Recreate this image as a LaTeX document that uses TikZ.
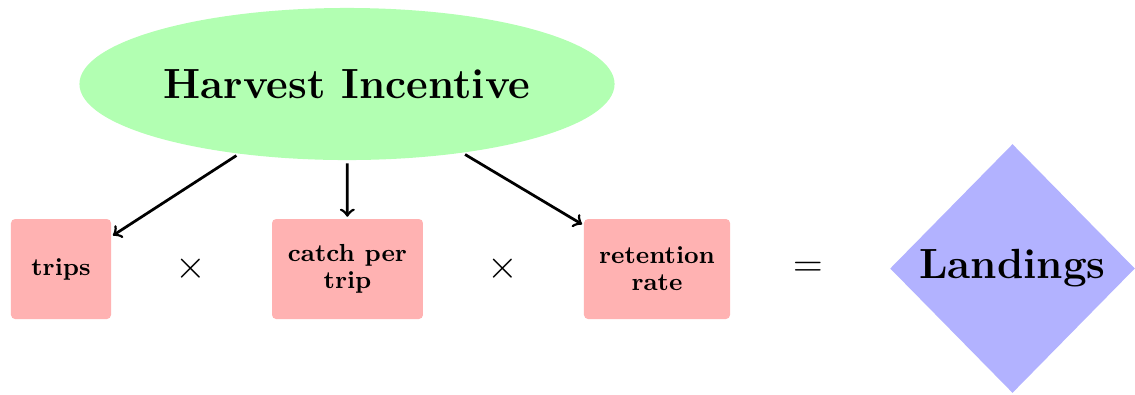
\documentclass[tikz,border=0pt]{standalone}
\usetikzlibrary{shapes.geometric}

\newcommand{\titlefont}{\fontsize{15.4}{18.5}\selectfont\bfseries}

\tikzset{
  factor/.style={draw=none, fill=red!30, rounded corners=1.5pt, inner sep=0pt,
    minimum height=36.5pt, align=center, font=\small\bfseries},
  opsign/.style={inner sep=0pt, font=\Large},
  link/.style={->, line width=1pt, shorten <=1pt, shorten >=0.6pt}
}

\begin{document}
\begin{tikzpicture}[x=0.36496pt, y=-0.36496pt]
  \useasboundingbox (0,0) rectangle (1135,394);

  % driver
  \node[ellipse, fill=green!30, inner sep=0pt, minimum width=195.3pt,
        minimum height=55.5pt, font=\titlefont] (hi) at (347,84) {Harvest Incentive};

  % factors of the product
  \node[factor, minimum width=36.5pt] (trips) at (61,269) {trips};
  \node[opsign] (x1) at (191,269) {$\times$};
  \node[factor, minimum width=55.1pt] (catch) at (347.5,269) {catch per\\[-1.15pt]trip};
  \node[opsign] (x2) at (503,269) {$\times$};
  \node[factor, minimum width=53.3pt] (ret) at (657,269) {retention\\[-1.15pt]rate};
  \node[opsign] (eq) at (808,269) {$=$};

  % result
  \node[diamond, fill=blue!30, inner sep=0pt, minimum width=89.4pt,
        minimum height=90.9pt, font=\titlefont] (land) at (1012.5,268.5) {Landings};

  % influence arrows
  \draw[link] (hi) -- (trips);
  \draw[link] (hi) -- (catch);
  \draw[link] (hi) -- (ret);
\end{tikzpicture}
\end{document}
